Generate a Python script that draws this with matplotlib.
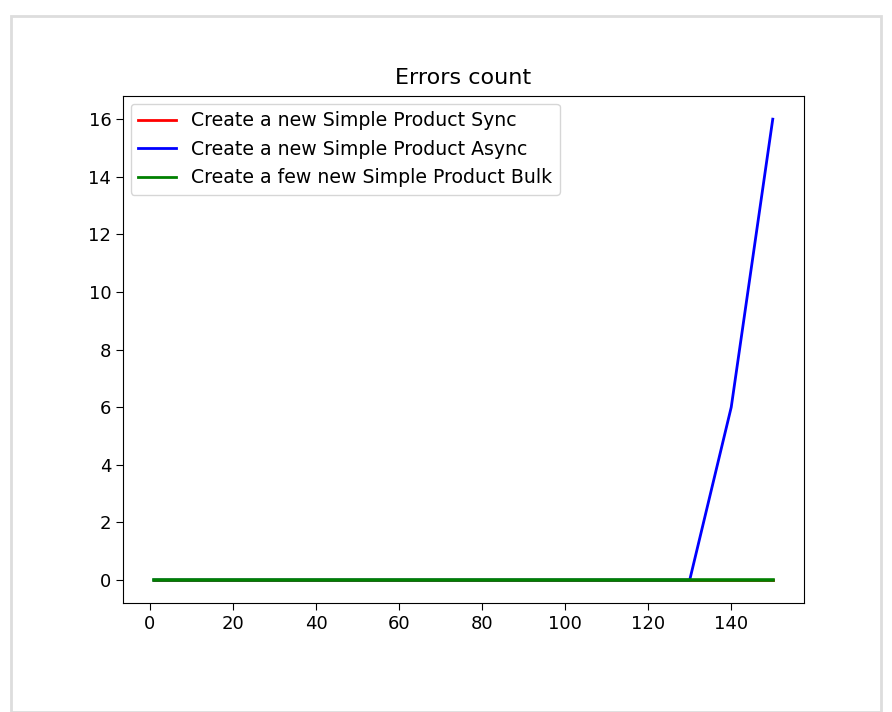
import matplotlib.pyplot as plt

# users per step
users = [1, 10, 20, 30, 40, 50, 60, 70, 80, 90, 100, 110, 120, 130, 140, 150]

sync_errors = [0, 0, 0, 0, 0, 0, 0, 0, 0, 0, 0, 0, 0, 0, 0, 0]
async_errors = [0, 0, 0, 0, 0, 0, 0, 0, 0, 0, 0, 0, 0, 0, 6, 16]
bulk_errors = [0, 0, 0, 0, 0, 0, 0, 0, 0, 0, 0, 0, 0, 0, 0, 0]

labels = ["Create a new Simple Product Sync",
          "Create a new Simple Product Async",
          "Create a few new Simple Product Bulk"]

fig = plt.figure(figsize=(8.92, 7.12), dpi=100)
ax = fig.add_axes([0.138, 0.153, 0.763, 0.712])

ax.plot(users, sync_errors, color="r", label=labels[0], linewidth=2)
ax.plot(users, async_errors, color="b", label=labels[1], linewidth=2)
ax.plot(users, bulk_errors, color="g", label=labels[2], linewidth=2.6)

ax.set_title("Errors count", fontsize=16, pad=9)
ax.tick_params(labelsize=13, length=5)
leg = ax.legend(loc="upper left", fontsize=13.6, handlelength=2, borderaxespad=0.4)
for line in leg.get_lines():
    line.set_linewidth(2)

# screenshot frame
fig.patches.append(plt.Rectangle((0.012, 0.0), 0.976, 0.978, transform=fig.transFigure,
                                 fill=False, edgecolor="#dddddd", linewidth=2))

plt.savefig("out.png", dpi=100)
